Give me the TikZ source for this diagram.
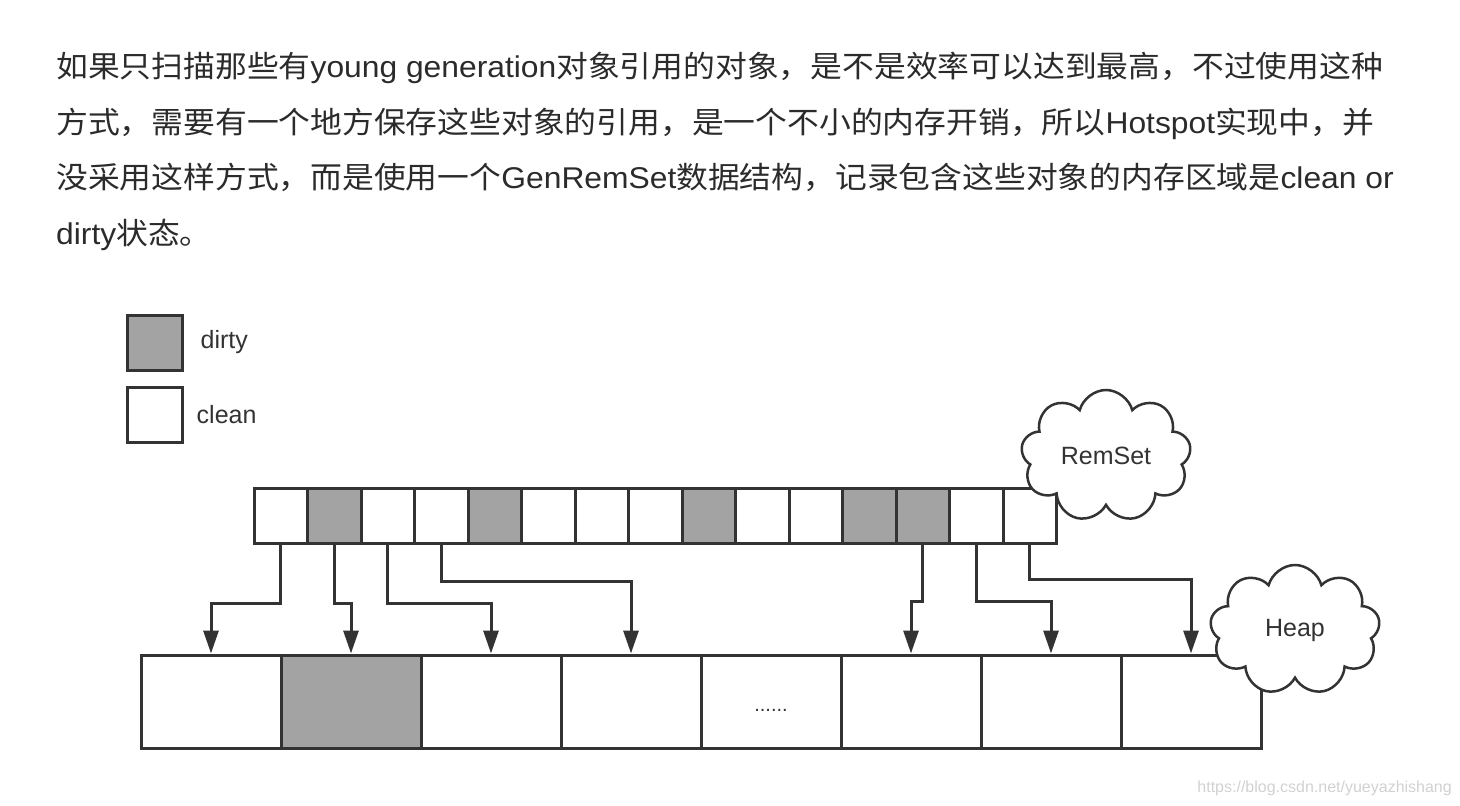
\documentclass[tikz,border=0pt]{standalone}
\usepackage{fontspec}
\setmainfont{Liberation Sans}
\newfontfamily\cjk[FakeStretch=1.06]{Noto Sans CJK SC}
\newfontfamily\lat[FakeStretch=1.06]{Liberation Sans}
\usepackage{tikz}
\usetikzlibrary{shapes.symbols,arrows.meta,positioning}
\definecolor{ink}{HTML}{333333}
\definecolor{dirtygray}{HTML}{A3A3A3}
\definecolor{txt}{HTML}{2B2B2B}

\begin{document}
\begin{tikzpicture}[
    x=1pt, y=-1pt,
    para/.style={anchor=base west, inner sep=0pt, text=txt, font=\cjk\fontsize{30}{36}\selectfont},
    card/.style={draw=ink, line width=3pt, minimum width=53.5pt, minimum height=55pt, inner sep=0pt},
    region/.style={draw=ink, line width=3pt, minimum width=140pt, minimum height=93pt, inner sep=0pt},
    keytext/.style={inner sep=0pt, text=ink, font=\fontsize{25}{30}\selectfont},
    blob/.style={cloud, cloud puffs=9, aspect=1.3, draw=ink, line width=2.5pt, fill=white, minimum width=170pt, minimum height=132pt, inner sep=0pt, text=ink, font=\fontsize{25}{30}\selectfont},
    arrow/.style={-{Triangle[length=23pt, width=15pt]}, draw=ink, line width=3pt}
]
\useasboundingbox (0,0) rectangle (1460,806);

% Paragraph above the figure
\node[para] (l1) at (56,77) {如果只扫描那些有{\lat young generation}对象引用的对象，是不是效率可以达到最高，不过使用这种};
\node[para] (l2) at (56,133) {方式，需要有一个地方保存这些对象的引用，是一个不小的内存开销，所以{\lat Hotspot}实现中，并};
\node[para] (l3) at (56,188) {没采用这样方式，而是使用一个{\lat GenRemSet}数据结构，记录包含这些对象的内存区域是{\lat clean or}};
\node[para] (l4) at (56,244) {{\lat dirty}状态。};

% Legend
\node[card, minimum width=55pt, fill=dirtygray] (kd) at (154.5,342.5) {};
\node[keytext, right=17pt of kd] (kdl) {dirty};
\node[card, minimum width=55pt, fill=white] (kc) at (154.5,414.5) {};
\node[keytext, right=13pt of kc] (kcl) {clean};

% RemSet cards
\foreach \i/\f in {1/white, 2/dirtygray, 3/white, 4/white, 5/dirtygray, 6/white, 7/white, 8/white,
                   9/dirtygray, 10/white, 11/white, 12/dirtygray, 13/dirtygray, 14/white, 15/white}
  \node[card, fill=\f] (r\i) at ({254+53.5*(\i-0.5)},515.5) {};

% Heap regions
\foreach \i/\f in {1/white, 2/dirtygray, 3/white, 4/white, 5/white, 6/white, 7/white, 8/white}
  \node[region, fill=\f] (h\i) at ({141+140*(\i-0.5)},701.5) {};
\node[keytext, font=\fontsize{20}{24}\selectfont] (dots) at ([yshift=-9pt]h5.center) {......};

% Card -> region references
\foreach \s/\t/\d in {r1/h1/59, r2/h2/59, r3/h3/59, r4/h4/37, r13/h6/57, r14/h7/57, r15/h8/35}
  \draw[arrow] (\s.south) -- ++(0,\d) -| (\t.north);

% Clouds
\node[blob] (remset) at (1106,456) {RemSet};
\node[blob, minimum height=130pt] (heap) at (1295,630) {Heap};

\node[anchor=east, inner sep=0pt, text=black!18, font=\fontsize{16}{18}\selectfont] (mark) at (1452,788) {https://blog.csdn.net/yueyazhishang};

\end{tikzpicture}
\end{document}
